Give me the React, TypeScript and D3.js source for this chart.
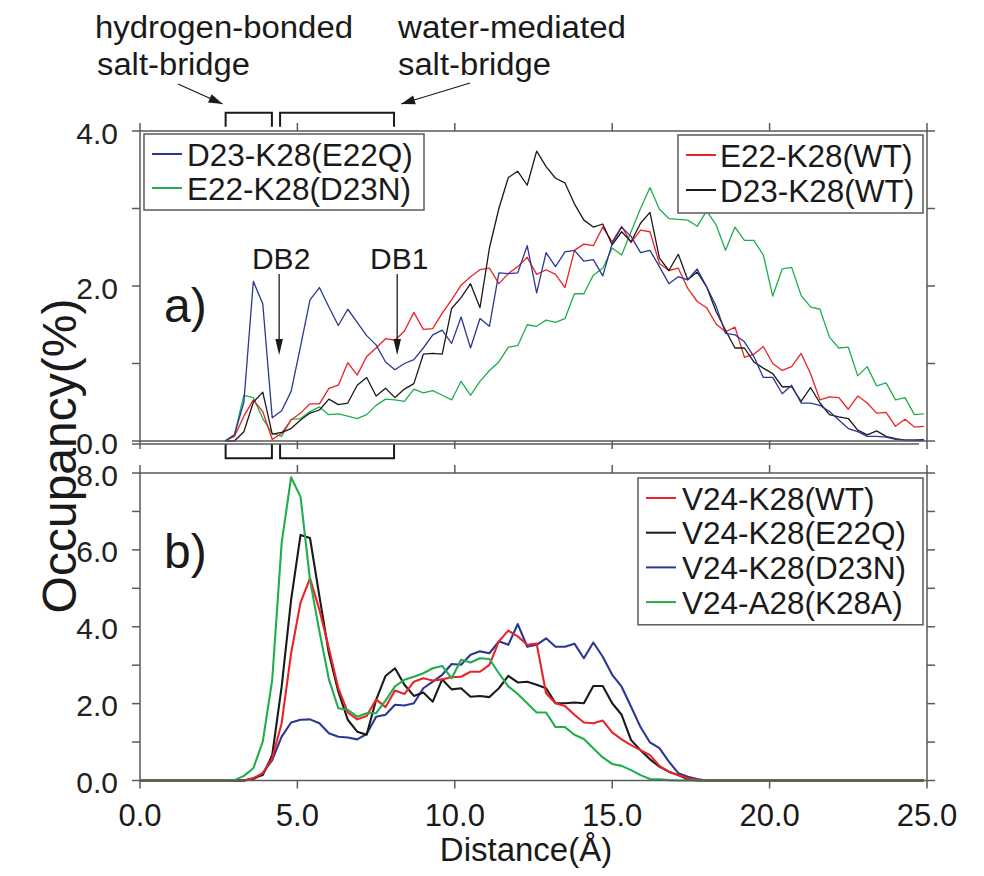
import React from 'react';
import * as d3 from 'd3';

// ---------- data ----------
const DIST_STEP = 0.3;
const DIST_START_A = 2.7;
const DIST_START_B = 0.0;

// panel a (2.7 .. 24.9 Å)
const A_D23_K28_E22Q = [
  0, 0.08, 0.5, 2.06, 1.77, 0.3, 0.39, 0.64, 1.22, 1.82,
  1.98, 1.73, 1.49, 1.7, 1.53, 1.36, 1.24, 1.02, 0.92, 1.0,
  1.05, 1.2, 1.37, 1.43, 1.26, 1.6, 1.2, 1.58, 1.48, 2.17,
  2.16, 2.17, 2.52, 1.91, 2.43, 2.25, 2.44, 2.46, 2.32, 2.34,
  2.13, 2.55, 2.76, 2.64, 2.43, 2.46, 2.25, 2.03, 2.12, 2.08,
  2.22, 1.99, 1.74, 1.39, 1.37, 1.28, 1.09, 0.82, 0.82, 0.61,
  0.72, 0.49, 0.49, 0.46, 0.38, 0.27, 0.16, 0.12, 0.06, 0.06,
  0.05, 0.02, 0.01, 0.01, 0.02,
];
const A_E22_K28_D23N = [
  0, 0.08, 0.59, 0.56, 0.29, 0.1, 0.06, 0.28, 0.29, 0.38,
  0.44, 0.34, 0.35, 0.32, 0.29, 0.34, 0.46, 0.54, 0.53, 0.51,
  0.67, 0.62, 0.65, 0.59, 0.53, 0.77, 0.59, 0.77, 0.91, 1.02,
  1.21, 1.23, 1.5, 1.48, 1.56, 1.53, 1.58, 1.9, 1.9, 2.14,
  2.23, 2.49, 2.4, 2.7, 3.0, 3.27, 2.99, 2.87, 2.86, 2.85,
  2.77, 2.97, 2.79, 2.46, 2.76, 2.59, 2.59, 2.4, 1.87, 2.22,
  2.24, 1.88, 1.73, 1.7, 1.34, 1.2, 1.21, 0.84, 0.96, 0.71,
  0.75, 0.53, 0.56, 0.34, 0.35,
];
const A_E22_K28_WT = [
  0, 0.06, 0.32, 0.53, 0.38, 0.02, 0.1, 0.27, 0.36, 0.48,
  0.48, 0.68, 0.72, 1.01, 0.85, 1.09, 1.2, 1.32, 1.3, 1.42,
  1.66, 1.44, 1.45, 1.65, 1.82, 2.01, 2.12, 2.21, 2.23, 2.03,
  2.16, 2.25, 2.37, 2.15, 2.21, 2.15, 1.98, 2.46, 2.54, 2.52,
  2.76, 2.57, 2.77, 2.56, 2.72, 2.7, 2.29, 2.2, 2.23, 1.97,
  1.8, 1.72, 1.51, 1.41, 1.47, 1.08, 1.12, 1.22, 1.0, 0.91,
  0.96, 1.13, 0.87, 0.53, 0.57, 0.56, 0.41, 0.58, 0.49, 0.36,
  0.37, 0.19, 0.28, 0.18, 0.19,
];
const A_D23_K28_WT = [
  0, 0, 0.12, 0.5, 0.63, 0.09, 0.11, 0.16, 0.27, 0.36,
  0.4, 0.54, 0.47, 0.49, 0.72, 0.82, 0.58, 0.68, 0.56, 0.67,
  0.74, 1.12, 1.13, 1.12, 1.71, 1.85, 2.03, 1.72, 2.49, 3.0,
  3.4, 3.48, 3.3, 3.74, 3.54, 3.39, 3.33, 3.06, 2.85, 2.76,
  2.8, 2.53, 2.7, 2.57, 2.81, 2.95, 2.36, 2.2, 2.41, 2.08,
  2.18, 1.99, 1.67, 1.43, 1.2, 1.2, 1.02, 0.94, 0.87, 0.7,
  0.7, 0.51, 0.69, 0.49, 0.34, 0.31, 0.29, 0.14, 0.08, 0.13,
  0.06, 0.03, 0.01, 0.01, 0.01,
];

// panel b (0.0 .. 24.9 Å)
const B_V24_K28_WT = [
  0, 0, 0, 0, 0, 0, 0, 0, 0,
  0, 0, 0, 0.06, 0.19, 0.58, 1.49, 3.31, 4.63, 5.26,
  4.44, 3.44, 2.4, 1.77, 1.59, 1.68, 2.11, 1.91, 2.34, 2.25,
  2.57, 2.66, 2.6, 2.63, 2.69, 2.7, 2.83, 2.83, 3.01, 3.62,
  3.9, 3.75, 3.53, 3.56, 2.27, 2.01, 1.94, 1.71, 1.51, 1.49,
  1.56, 1.25, 1.07, 0.92, 0.79, 0.66, 0.38, 0.23, 0.14, 0.06,
  0.01,
  0, 0, 0, 0, 0, 0, 0, 0, 0, 0, 0, 0, 0, 0, 0, 0, 0, 0, 0, 0, 0, 0, 0, 0,
];
const B_V24_K28_E22Q = [
  0, 0, 0, 0, 0, 0, 0, 0, 0,
  0, 0, 0, 0.06, 0.14, 0.66, 2.44, 4.7, 6.39, 6.31,
  4.79, 3.31, 2.31, 1.58, 1.27, 1.19, 2.1, 2.72, 2.92, 2.49,
  2.2, 2.29, 2.05, 2.63, 2.37, 2.4, 2.18, 2.2, 2.17, 2.4,
  2.72, 2.55, 2.57, 2.49, 2.4, 2.01, 2.01, 2.03, 2.01, 2.46,
  2.46, 2.01, 1.71, 1.05, 0.79, 0.55, 0.36, 0.23, 0.14, 0.03,
  0,
  0, 0, 0, 0, 0, 0, 0, 0, 0, 0, 0, 0, 0, 0, 0, 0, 0, 0, 0, 0, 0, 0, 0, 0,
];
const B_V24_K28_D23N = [
  0, 0, 0, 0, 0, 0, 0, 0, 0,
  0, 0, 0, 0.03, 0.19, 0.53, 1.14, 1.51, 1.58, 1.59,
  1.49, 1.23, 1.14, 1.12, 1.07, 1.21, 1.66, 1.71, 1.97, 1.95,
  2.01, 2.4, 2.57, 2.75, 3.03, 3.01, 3.27, 3.36, 3.31, 3.62,
  3.53, 4.07, 3.48, 3.53, 3.7, 3.48, 3.48, 3.56, 3.18, 3.59,
  3.22, 2.75, 2.44, 1.92, 1.39, 0.99, 0.84, 0.49, 0.19, 0.1,
  0.04,
  0, 0, 0, 0, 0, 0, 0, 0, 0, 0, 0, 0, 0, 0, 0, 0, 0, 0, 0, 0, 0, 0, 0, 0,
];
const B_V24_A28_K28A = [
  0, 0, 0, 0, 0, 0, 0, 0, 0,
  0, 0.01, 0.12, 0.32, 1.01, 2.62, 6.18, 7.89, 7.38, 5.22,
  3.88, 2.63, 1.88, 1.84, 1.66, 1.75, 1.75, 2.08, 2.45, 2.62,
  2.7, 2.79, 2.92, 2.98, 2.66, 3.14, 3.07, 3.18, 3.16, 2.79,
  2.45, 2.25, 2.01, 1.77, 1.77, 1.39, 1.39, 1.19, 1.08, 0.84,
  0.6, 0.43, 0.38, 0.27, 0.14, 0.04, 0.03, 0.01, 0, 0,
  0,
  0, 0, 0, 0, 0, 0, 0, 0, 0, 0, 0, 0, 0, 0, 0, 0, 0, 0, 0, 0, 0, 0, 0, 0,
];

const X_TICKS = [0, 5, 10, 15, 20, 25];
const X_LABELS = ['0.0', '5.0', '10.0', '15.0', '20.0', '25.0'];
const A_Y_TICKS = [0, 1, 2, 3, 4];
const A_Y_LABELS = [0, 2, 4];
const B_Y_TICKS = [0, 1, 2, 3, 4, 5, 6, 7, 8];
const B_Y_LABELS = [0, 2, 4, 6, 8];

const BRACKETS = [[2.72, 4.19], [4.45, 8.07]];
const DB_MARKS = [{ label: 'DB2', x: 4.42 }, { label: 'DB1', x: 8.17 }];

// ---------- style ----------
const RED = '#ec2227';
const BLACK = '#1a1a1a';
const BLUE = '#2b3893';
const GREEN = '#1fae4b';
const FRAME = '#5a5a5a';
const FONT = "'Liberation Sans', Arial, Helvetica, sans-serif";

const A_SERIES = [
  { name: 'E22-K28(D23N)', values: A_E22_K28_D23N, color: GREEN },
  { name: 'E22-K28(WT)', values: A_E22_K28_WT, color: RED },
  { name: 'D23-K28(WT)', values: A_D23_K28_WT, color: BLACK },
  { name: 'D23-K28(E22Q)', values: A_D23_K28_E22Q, color: BLUE },
];
const B_SERIES = [
  { name: 'V24-K28(D23N)', values: B_V24_K28_D23N, color: BLUE },
  { name: 'V24-K28(E22Q)', values: B_V24_K28_E22Q, color: BLACK },
  { name: 'V24-K28(WT)', values: B_V24_K28_WT, color: RED },
  { name: 'V24-A28(K28A)', values: B_V24_A28_K28A, color: GREEN },
];

const LEGEND_A1 = [{ name: 'D23-K28(E22Q)', color: BLUE }, { name: 'E22-K28(D23N)', color: GREEN }];
const LEGEND_A2 = [{ name: 'E22-K28(WT)', color: RED }, { name: 'D23-K28(WT)', color: BLACK }];
const LEGEND_B = [
  { name: 'V24-K28(WT)', color: RED },
  { name: 'V24-K28(E22Q)', color: BLACK },
  { name: 'V24-K28(D23N)', color: BLUE },
  { name: 'V24-A28(K28A)', color: GREEN },
];

const xS = d3.scaleLinear().domain([0, 25]).range([140, 927]);
const yA = d3.scaleLinear().domain([0, 4]).range([441, 131]);
const yB = d3.scaleLinear().domain([0, 8]).range([780.5, 473]);

function arrowHead(x1: number, y1: number, x2: number, y2: number, len: number, hw: number) {
  const a = Math.atan2(y2 - y1, x2 - x1);
  const bx = x2 - len * Math.cos(a);
  const by = y2 - len * Math.sin(a);
  const px = -Math.sin(a) * hw;
  const py = Math.cos(a) * hw;
  return `${x2},${y2} ${bx + px},${by + py} ${bx - px},${by - py}`;
}

function Frame({ y, yTicks, yLabels }: { y: d3.ScaleLinear<number, number>; yTicks: number[]; yLabels: number[] }) {
  const [x0, x1] = xS.range();
  const [yb, yt] = y.range();
  const T = 8;
  return (
    <g stroke={FRAME} strokeWidth={1.5} fill="none">
      <rect x={x0} y={yt} width={x1 - x0} height={yb - yt} />
      {yTicks.map((t) => (
        <g key={'y' + t}>
          <line x1={x0 - T} x2={x0} y1={y(t)} y2={y(t)} />
          <line x1={x1} x2={x1 + T} y1={y(t)} y2={y(t)} />
        </g>
      ))}
      {X_TICKS.map((t) => (
        <g key={'x' + t}>
          <line x1={xS(t)} x2={xS(t)} y1={yt - T} y2={yt} />
          <line x1={xS(t)} x2={xS(t)} y1={yb} y2={yb + T} />
        </g>
      ))}
      {yLabels.map((t) => (
        <text key={'l' + t} x={x0 - 22} y={y(t) + 12.5} textAnchor="end" fontSize={30}
          fontFamily={FONT} fill="#222" stroke="none">{t.toFixed(1)}</text>
      ))}
    </g>
  );
}

function Series({ series, y, start, width }: any) {
  const line = d3.line<number>()
    .x((_, i) => xS(start + i * DIST_STEP))
    .y((d) => y(d));
  return (
    <g fill="none" strokeLinejoin="round">
      {series.map((s: any) => (
        <path key={s.name} d={line(s.values) || ''} stroke={s.color} strokeWidth={width} />
      ))}
    </g>
  );
}

function Legend({ items, x, y, w, rowH, textX, lineW }: any) {
  const h = items.length * rowH + 8;
  return (
    <g>
      <rect x={x} y={y} width={w} height={h} fill="white" stroke={FRAME} strokeWidth={1.5} />
      {items.map((it: any, i: number) => {
        const cy = y + 20 + i * rowH;
        return (
          <g key={it.name}>
            <line x1={x + 8} x2={x + 8 + lineW} y1={cy} y2={cy} stroke={it.color} strokeWidth={2} />
            <text x={textX} y={cy + 11.5} fontSize={31.5} fontFamily={FONT} fill="#1a1a1a">{it.name}</text>
          </g>
        );
      })}
    </g>
  );
}

export default function App() {
  const topY0 = 112.7;
  const topY1 = 126.7;
  const botY0 = 444;
  const botY1 = 458.3;
  const a1 = { x1: 178, y1: 84, x2: xS(BRACKETS[0][0]) - 3, y2: 104 };
  const a2 = { x1: 470, y1: 83, x2: xS(BRACKETS[1][1]) + 7, y2: 104 };
  return (
    <svg width={984} height={876} style={{ position: 'absolute', left: 0, top: 0, background: 'white' }}
      fontFamily={FONT}>
      <rect x={0} y={0} width={984} height={876} fill="white" />

      {/* annotations above */}
      <g fontSize={31} fill="#1a1a1a">
        <text x={95} y={38} textLength={258} lengthAdjust="spacingAndGlyphs">hydrogen-bonded</text>
        <text x={97} y={75} textLength={153} lengthAdjust="spacingAndGlyphs">salt-bridge</text>
        <text x={398} y={38} textLength={228} lengthAdjust="spacingAndGlyphs">water-mediated</text>
        <text x={398} y={75} textLength={153} lengthAdjust="spacingAndGlyphs">salt-bridge</text>
      </g>
      <g stroke="#1a1a1a" strokeWidth={1.3}>
        <line x1={a1.x1} y1={a1.y1} x2={a1.x2} y2={a1.y2} />
        <line x1={a2.x1} y1={a2.y1} x2={a2.x2} y2={a2.y2} />
      </g>
      <polygon points={arrowHead(a1.x1, a1.y1, a1.x2, a1.y2, 14, 4.5)} fill="#1a1a1a" />
      <polygon points={arrowHead(a2.x1, a2.y1, a2.x2, a2.y2, 14, 4.5)} fill="#1a1a1a" />

      {/* brackets */}
      <g stroke="#1a1a1a" strokeWidth={2} fill="none">
        {BRACKETS.map(([s, e], i) => (
          <g key={i}>
            <path d={`M${xS(s)},${topY1} V${topY0} H${xS(e)} V${topY1}`} />
            <path d={`M${xS(s)},${botY0} V${botY1} H${xS(e)} V${botY0}`} />
          </g>
        ))}
      </g>

      {/* panel a */}
      <Series series={A_SERIES} y={yA} start={DIST_START_A} width={1.3} />
      <Frame y={yA} yTicks={A_Y_TICKS} yLabels={A_Y_LABELS} />
      <line x1={132} x2={919} y1={444} y2={444} stroke={FRAME} strokeWidth={1.5} />
      <Legend items={LEGEND_A1} x={144} y={134} w={280} rowH={34} textX={187} lineW={30} />
      <Legend items={LEGEND_A2} x={678} y={135} w={245} rowH={35} textX={720} lineW={30} />
      <text x={164} y={322} fontSize={48} fill="#1a1a1a">a)</text>
      {DB_MARKS.map((m) => {
        const x = xS(m.x);
        return (
          <g key={m.label}>
            <text x={x + 2} y={269} fontSize={30} textAnchor="middle" fill="#1a1a1a">{m.label}</text>
            <line x1={x} x2={x} y1={274} y2={345} stroke="#1a1a1a" strokeWidth={1.3} />
            <polygon points={arrowHead(x, 274, x, 355, 16, 3.8)} fill="#1a1a1a" />
          </g>
        );
      })}

      {/* panel b */}
      <Series series={B_SERIES} y={yB} start={DIST_START_B} width={2.1} />
      <Frame y={yB} yTicks={B_Y_TICKS} yLabels={B_Y_LABELS} />
      <Legend items={LEGEND_B} x={638} y={478} w={285} rowH={34.7} textX={682} lineW={30} />
      <text x={164} y={568} fontSize={48} fill="#1a1a1a">b)</text>

      {/* x tick labels */}
      {X_TICKS.map((t, i) => (
        <text key={t} x={xS(t)} y={826} fontSize={31} textAnchor="middle" fill="#1a1a1a">{X_LABELS[i]}</text>
      ))}
      <text x={526} y={861} fontSize={33} textAnchor="middle" fill="#1a1a1a">Distance(Å)</text>
      <text transform="translate(76,456) rotate(-90)" fontSize={48} textAnchor="middle" fill="#1a1a1a">Occupancy(%)</text>
    </svg>
  );
}
